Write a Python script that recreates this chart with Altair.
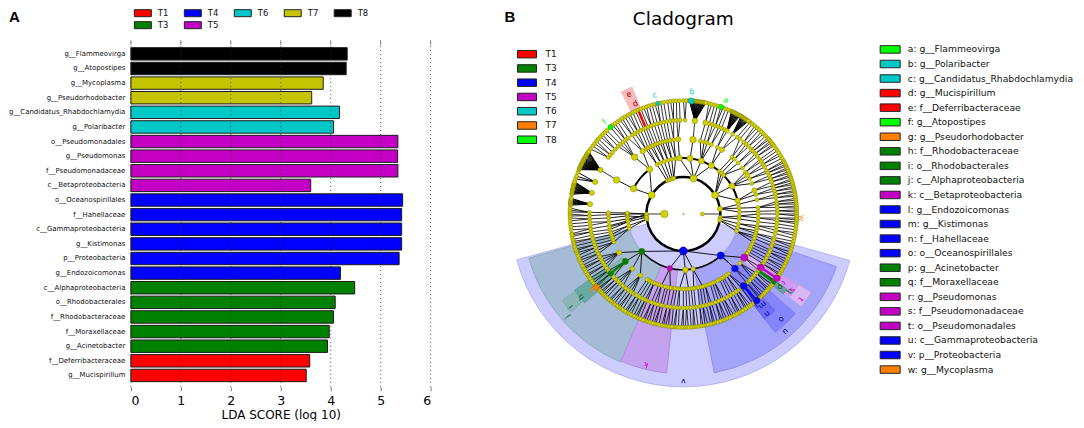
import numpy as np
import pandas as pd
import altair as alt

FONT = "DejaVu Sans"

# ---------- panel A values ----------
TAXA = ["g__Flammeovirga", "g__Atopostipes", "g__Mycoplasma", "g__Pseudorhodobacter",
        "g__Candidatus_Rhabdochlamydia", "g__Polaribacter", "o__Pseudomonadales", "g__Pseudomonas",
        "f__Pseudomonadaceae", "c__Betaproteobacteria", "o__Oceanospirillales", "f__Hahellaceae",
        "c__Gammaproteobacteria", "g__Kistimonas", "p__Proteobacteria", "g__Endozoicomonas",
        "c__Alphaproteobacteria", "o__Rhodobacterales", "f__Rhodobacteraceae", "f__Moraxellaceae",
        "g__Acinetobacter", "f__Deferribacteraceae", "g__Mucispirillum"]
LDA = [4.33, 4.31, 3.85, 3.62, 4.175, 4.055, 5.345, 5.34, 5.345, 3.60, 5.44, 5.42, 5.42, 5.42,
       5.37, 4.195, 4.48, 4.09, 4.055, 3.97, 3.935, 3.58, 3.51]
GROUP = ["T8", "T8", "T7", "T7", "T6", "T6", "T5", "T5", "T5", "T5", "T4", "T4", "T4", "T4", "T4",
         "T4", "T3", "T3", "T3", "T3", "T3", "T1", "T1"]
GROUPS_A = ["T1", "T3", "T4", "T5", "T6", "T7", "T8"]
COLORS_A = ["#ff0000", "#008000", "#0000ff", "#c400c4", "#00c8c8", "#c4c400", "#000000"]
LEG_A_COL = [1, 1, 2, 2, 3, 4, 5]
LEG_A_ROW = [1, 2, 1, 2, 1, 1, 1]
TICKS = [0, 1, 2, 3, 4, 5, 6]

# ---------- panel B legends ----------
GROUPS_B = ["T1", "T3", "T4", "T5", "T6", "T7", "T8"]
COLORS_B = ["#ff0000", "#008000", "#0000ff", "#c400c4", "#00c8c8", "#ff8000", "#00ff00"]
CLADE_NAMES = ["a: g__Flammeovirga", "b: g__Polaribacter", "c: g__Candidatus_Rhabdochlamydia",
               "d: g__Mucispirillum", "e: f__Deferribacteraceae", "f: g__Atopostipes",
               "g: g__Pseudorhodobacter", "h: f__Rhodobacteraceae", "i: o__Rhodobacterales",
               "j: c__Alphaproteobacteria", "k: c__Betaproteobacteria", "l: g__Endozoicomonas",
               "m: g__Kistimonas", "n: f__Hahellaceae", "o: o__Oceanospirillales",
               "p: g__Acinetobacter", "q: f__Moraxellaceae", "r: g__Pseudomonas",
               "s: f__Pseudomonadaceae", "t: o__Pseudomonadales", "u: c__Gammaproteobacteria",
               "v: p__Proteobacteria", "w: g__Mycoplasma"]
CLADE_GROUP = ["T8", "T6", "T6", "T1", "T1", "T8", "T7", "T3", "T3", "T3", "T5", "T4", "T4", "T4",
               "T4", "T3", "T3", "T5", "T5", "T5", "T4", "T4", "T7"]

# ---------- cladogram, read as angle (deg, clockwise from top) per ring ----------
R1, R2, R3, R4, R5, R6 = 19, 37, 56, 75, 94, 113.5

ANG_R3 = [-97, -95, -92, -90, -89, -63, -37, -28, -24, -20, -16, -12, -8, -4, 7, 18.6, 30, 40, 43, 46,
          60, 76, 80, 84, 88, 92, 95, 100, 104, 108, 138, 170, 178, 194, 228, 255, 258, 262]
EDGES_R2_R3 = [(-90, -97), (-92, -95), (-95, -92), (-90, -90), (-90, -89), (-59, -63), (-59, -37),
               (-26, -28), (-23, -24), (-20, -20), (-17, -16), (-15, -12), (-15, -8), (16, -4), (16, 7),
               (16, 18.6), (16, 30), (59, 40), (59, 43), (59, 46), (59, 60), (59, 76), (82, 80), (82, 84),
               (82, 88), (95, 92), (95, 95), (98, 100), (100, 104), (100, 108), (180, 138), (180, 170),
               (180, 178), (180, 194), (180, 228), (262, 255), (262, 258), (265, 262)]
ANG_R2 = [-98, -95, -92, -90, -59, -26, -23, -20, -17, -15, 16, 59, 82, 95, 98, 100, 180, 262, 265]

ANG_R4 = [-99, -96, -93, -90.5, -89, -63, -40.6, -33, -30, -28, -26, -24, -22, -20, -18, -16, -14, -12,
          -10, -7.4, -4, 7.4, 13, 16, 18.5, 22, 27, 31, 40.6, 43, 47, 52, 56, 58.8, 62, 66, 71.6, 75, 79,
          85, 88, 90, 93, 96, 99, 101, 103, 105, 107, 109, 112, 114, 116, 118, 120, 122, 125.6, 131,
          136.6, 143, 145, 147.5, 149, 151, 153, 155.5, 157, 159, 161.5, 163, 165, 167, 169, 171.5, 172,
          174, 176, 178, 180, 183, 185, 187, 189, 190, 192, 194, 197, 199, 201, 203, 205, 207, 209, 215,
          223, 230.7, 239, 248, 250, 252, 254, 256, 258, 260]
EDGES_R3_R4 = [(-97, -99), (-95, -96), (-92, -93), (-90, -90.5), (-89, -89), (-63, -63), (-37, -40.6),
               (-37, -33), (-28, -30), (-28, -28), (-24, -26), (-24, -24), (-20, -22), (-20, -20),
               (-16, -18), (-16, -16), (-12, -14), (-12, -12), (-8, -10), (-8, -7.4), (-4, -4), (7, 7.4),
               (18.6, 13), (18.6, 16), (18.6, 18.5), (18.6, 22), (30, 27), (30, 31), (40, 40.6), (43, 43),
               (46, 47), (46, 52), (60, 56), (60, 58.8), (60, 62), (60, 66), (76, 71.6), (76, 75),
               (80, 79), (84, 85), (88, 88), (92, 90), (92, 93), (95, 96), (100, 99), (100, 101),
               (104, 103), (104, 105), (108, 107), (108, 109), (108, 112), (138, 136.6), (138, 125.6),
               (170, 165), (170, 172), (178, 176), (178, 183), (194, 190), (194, 197), (228, 215),
               (228, 223), (228, 230.7), (228, 239), (255, 248), (255, 252), (258, 254), (258, 256),
               (262, 258), (262, 260)]

ANG_R5 = [-99, -97, -95, -93, -91, -89, -84, -77, -70, -62, -53, -51, -49, -46.5, -44, -42, -40, -38, -36,
          -33, -31, -29, -27, -25, -23.5, -22, -20, -18, -16, -14, -12, -10, -8, -6, -4, -2, 1, 7, 13.6, 16,
          18, 20, 22, 24, 26, 27.7, 31.7, 35, 37, 40, 42, 44, 46.5, 48, 50, 52, 54.5, 56, 58, 60, 62.5,
          64, 66, 68, 70, 72.5, 74, 76, 78, 80, 82.5, 84, 86, 88, 90, 92.5, 94, 96, 98, 100, 102, 104.5,
          106, 108, 110, 112.5, 114, 116, 118, 120, 122, 124.6, 127, 129, 131, 133, 135, 137.5, 140,
          142, 144.5, 146, 148, 150, 152, 154.5, 156, 158, 160, 162.5, 164, 166, 168, 170, 172.5, 174,
          176, 178, 180, 182.5, 184, 186, 188, 190, 192.5, 194, 196, 198, 200, 202.5, 204, 206, 208, 210,
          212.5, 214, 216, 218, 220, 222.5, 224, 226, 228, 230.8, 233, 235, 237, 239, 241, 243, 245, 247,
          249, 251, 253, 255, 257, 259]

ANG_R6 = [-100, -98, -96.5, -95, -93.5, -92, -91, -90, -89, -88, -87, -55, -53, -51.5, -50, -48.5, -47,
          -45.5, -44, -42.5, -40, -38.5, -37, -35.5, -34, -32.5, -31, -29.5, -28, -26.5, -25, -23.5, -22,
          -20.5, -19, -17.5, -16, -14.5, -13, -11.5, -10, -8, -6.5, -5, -3.5, -2, 0, 1.5, 13, 14.5, 16,
          17.5, 19.3, 20.5, 22, 23.5, 36, 37.5, 39, 40.5, 42, 43.5, 45, 46.5, 48, 49, 50, 51, 52, 53, 54.5,
          56, 57.5, 59, 60.5, 62, 63, 64, 65, 66, 67, 68, 69, 70, 71, 72, 73, 74, 75, 76, 77, 78, 79, 80,
          81, 82, 83, 84, 85, 86, 87, 88, 89, 90, 91, 92, 93, 94, 95, 96.5, 98, 99.5, 101, 102.5, 104,
          105.5, 107, 108, 109.5, 111, 112, 113.5, 115, 116, 117.5, 119, 120, 121.5, 122.5, 124.5, 126,
          127, 128.5, 130, 131, 132, 133, 134.5, 136, 137, 138, 139.7, 141, 142, 143.5, 145, 146, 147,
          148.5, 150, 151, 152, 153.5, 155, 156, 157.5, 159, 160, 161, 162.5, 164, 165, 166, 167.5, 169,
          170, 171, 172.5, 174, 175, 176, 177.5, 179, 180, 181, 182.5, 184, 185, 186, 187.5, 189, 190, 191,
          192.5, 194, 195, 196, 197.5, 199, 200, 201, 202.5, 204, 205, 206, 207.5, 209, 210, 211, 212.5,
          214, 215, 216, 217.5, 219, 220, 221, 222.5, 224, 225, 226, 227, 228, 229, 230, 231, 232.5, 234,
          235.5, 237, 238, 239.5, 241, 242, 243, 244.5, 246, 247, 248.5, 250, 251, 252, 253.5, 255, 256,
          257, 258.5, 259.5]
# dense fans: parent on ring 5 -> children on ring 6
FANS = [(-84, [-85.5, -85, -84.5, -84, -83.5, -83, -82.5, -82]),
        (-77, [-80, -79.5, -79, -78.5, -78, -77.5, -77, -76.5, -76, -75.5, -75, -74.5, -74, -73.5]),
        (-70, [-72, -70.5, -68.5]),
        (-62, [-67, -66.5, -66, -65.5, -65, -64.5, -64, -63.5, -63, -62.5, -62, -61.5, -61, -60.5, -60,
               -59.5, -59, -58.5, -58, -57.5, -57, -56.5]),
        (7, [3, 3.5, 4, 4.5, 5, 5.5, 6, 6.5, 7, 7.5, 8, 8.5, 9, 9.5, 10, 10.5, 11, 11.5]),
        (27.7, [25, 25.5, 26, 26.5, 27, 27.5, 28, 28.5, 29, 29.5, 30]),
        (31.7, [30.5, 31, 31.5, 32, 32.5, 33, 33.5, 34, 34.5, 35])]

# node diameters that stand out from the small ones
BIG = {(R1, -90): 8.5, (R2, -59): 8, (R2, 16): 8, (R2, 59): 8, (R2, 82): 6, (R3, -63): 7.5, (R3, -37): 7,
       (R3, -4): 6.5, (R3, 7): 7, (R3, 18.6): 7, (R3, 30): 7, (R3, 60): 7, (R3, 76): 6, (R3, 178): 6.5,
       (R3, 170): 5.5, (R4, -63): 7.5, (R4, -40.6): 7.5, (R4, -33): 6, (R4, -4): 6, (R4, 7.4): 7.5,
       (R4, 31): 6, (R4, 58.8): 6, (R4, 71.6): 6, (R4, 239): 6, (R4, 223): 5.5, (R4, 215): 5.5,
       (R5, -62): 6, (R5, -70): 6, (R5, -77): 6, (R5, -84): 6, (R5, 7): 6.5, (R5, 13.6): 6, (R5, 27.7): 5.5}

# highlighted clades: ring, angle, group colour, diameter
HILITE = [(R6, 19.3, "#00ff00", 6), (R6, 4, "#00c8c8", 7), (R6, -13, "#00c8c8", 5), (R6, -23.5, "#ff0000", 3.5),
          (R5, -23.5, "#ff0000", 3.5), (R6, -40, "#00ff00", 6), (R6, 230, "#ff8000", 6.5),
          (R5, 230.8, "#008000", 6.5), (R4, 230.7, "#008000", 7), (R3, 228, "#008000", 7),
          (R3, 194, "#c400c4", 6.5), (R6, 139.7, "#0000ff", 8), (R5, 140, "#0000ff", 8.5),
          (R4, 136.6, "#0000ff", 8), (R3, 138, "#0000ff", 8.5), (R2, 180, "#0000ff", 9.5),
          (R4, 125.6, "#c400c4", 8.5), (R5, 124.6, "#c400c4", 8), (R6, 124.5, "#c400c4", 8),
          (R6, 127, "#008000", 5), (R6, 92, "#ff8000", 3.5)]
# coloured branches: r0, a0, r1, a1, colour, width
HI_EDGES = [(R5, -23.5, R6, -23.5, "#ff0000", 2.5), (R4, 230.7, R5, 230.8, "#008000", 2.2),
            (R5, 127, R6, 127, "#008000", 2.5), (R5, 140, R6, 139.7, "#0000ff", 2.5),
            (R5, 124.6, R6, 124.5, "#c400c4", 2.5), (R3, 138, R4, 136.6, "#000000", 1),
            (R1, -90, R2, -90, "#000000", 0.8), (R1, 90, R2, 90, "#000000", 0.8)]

# shaded clade sectors: a0, a1, r0, r1, fill, stroke
SECTORS = [(105.6, 254.6, 37, 173, "#ccccff", "#b4b4f8"), (109, 169, 56, 162, "#a4a4f8", "#9292ee"),
           (203, 254, 56, 161, "#a5bbd6", "#8fb0b4"), (186, 203, 56, 160, "#c4a2ee", "#b08fe0"),
           (131.7, 142.2, 75, 150, "#8585fb", "#7c7cf2"), (136.5, 142.3, 94, 133, "#6e6ef4", "#6464ec"),
           (121.5, 128.2, 75, 150, "#d8b8f4", "#c8a0ec"), (121.8, 127.6, 94, 135, "#cf9ef0", "#c090e8"),
           (126, 128.6, 94, 128, "#6f9ea8", "#5f8f98"), (229, 234.5, 75, 149, "#8db5b6", "#7fabac"),
           (228, 235, 94, 133, "#6ca9a2", "#5f9f98"), (-27, -22, 114, 137, "#f8bcbc", "#f8bcbc")]
# thick arcs: a0, a1, radius, width
THICK = [(-98, 262, 37, 2.4), (-63, -37, 56, 2), (-8, 30, 56, 2), (30, 80, 56, 2), (138, 228, 56, 1.5)]

# letters: text, angle, radius, colour
LETTERS = [("a", 20.5, 121, "#00ff00"), ("b", 4, 122, "#00c8c8"), ("c", -13.5, 122, "#00c8c8"),
           ("d", -23.5, 120, "#a00000"), ("e", -24.5, 131, "#a00000"), ("f", -40.5, 121, "#00ff00"),
           ("g", 230.2, 118, "#ff8000"), ("h", 230.9, 131.5, "#005a30"), ("i", 230.5, 146, "#005a30"),
           ("j", 228.4, 155, "#005a30"), ("k", 194, 155, "#c400c4"), ("l", 141.5, 116, "#0000c0"),
           ("m", 139, 120, "#0000c0"), ("n", 140, 130, "#0000c0"), ("o", 137.1, 143.6, "#000080"),
           ("p", 127, 121, "#006000"), ("q", 126, 131.7, "#006000"), ("r", 124.5, 121, "#c400c4"),
           ("s", 124.8, 133, "#c400c4"), ("t", 126, 144.5, "#c400c4"), ("u", 139, 155.4, "#000080"),
           ("v", 180, 167, "#000080"), ("w", 92, 118, "#ff9030")]


# ---------- helpers ----------
def xy(r, a):
    t = np.radians(a)
    return float(r * np.sin(t)), float(-r * np.cos(t))


def edge(r0, a0, r1, a1, color="#000000", w=0.7):
    x, y = xy(r0, a0)
    x2, y2 = xy(r1, a1)
    return dict(x=x, y=y, x2=x2, y2=y2, c=color, w=w)


edges = []
for p, c in EDGES_R2_R3:
    edges.append(edge(R2, p, R3, c, w=0.9))
for p, c in EDGES_R3_R4:
    edges.append(edge(R3, p, R4, c, w=0.9))
for c in ANG_R5:
    p = min(ANG_R4, key=lambda a: abs(a - c))
    if abs(p - c) < 5:
        edges.append(edge(R4, p, R5, c, w=0.8))
for c in ANG_R6:
    p = min(ANG_R5, key=lambda a: abs(a - c))
    edges.append(edge(R5, p, R6, c, w=0.8))
fan_children = []
for p, kids in FANS:
    for c in kids:
        edges.append(edge(R5, p, R6, c, w=1.0))
        fan_children.append(c)
for e in HI_EDGES:
    edges.append(edge(*e))
edges_df = pd.DataFrame(edges)

nodes = []


def add_nodes(r, angs, dflt):
    for a in angs:
        x, y = xy(r, a)
        d = BIG.get((r, a), dflt)
        nodes.append(dict(x=x, y=y, s=np.pi / 4 * d * d, c="#d2d200", d=d))


add_nodes(R6, ANG_R6 + fan_children, 4.6)
add_nodes(R5, ANG_R5, 4.6)
add_nodes(R4, ANG_R4, 4.6)
add_nodes(R3, ANG_R3, 4.6)
add_nodes(R2, ANG_R2, 4.6)
add_nodes(R1, [-90, 90], 4.6)
add_nodes(0.01, [0], 1.5)
for r, a, col, d in HILITE:
    x, y = xy(r, a)
    nodes.append(dict(x=x, y=y, s=np.pi / 4 * d * d, c=col, d=d))
nodes_df = pd.DataFrame(nodes).sort_values("d", kind="stable")

sect_df = pd.DataFrame(
    [dict(t0=np.radians(a0), t1=np.radians(a1), r0=r0, r1=r1, f=f, st=st) for a0, a1, r0, r1, f, st in SECTORS])
thick_df = pd.DataFrame(
    [dict(t0=np.radians(a0), t1=np.radians(a1), r0=r - w / 2, r1=r + w / 2) for a0, a1, r, w in THICK])
let_df = pd.DataFrame([dict(t=t, x=xy(r, a)[0], y=xy(r, a)[1], c=c, rot=a % 360) for t, a, r, c in LETTERS])

# ---------- panel sizes ----------
ROW0, ROW1 = 33.5, 345
COL0, COL1, COL2 = 300, 430, 216
CX, CY = 253, 172

color_a = alt.Color("g:N", scale=alt.Scale(domain=GROUPS_A, range=COLORS_A), legend=None)
color_b = alt.Color("g:N", scale=alt.Scale(domain=GROUPS_B, range=COLORS_B), legend=None)

# ---------- top-left legend ----------
leg_a = pd.DataFrame(dict(g=GROUPS_A, col=LEG_A_COL, row=LEG_A_ROW))
lx = alt.X("col:O", scale=alt.Scale(type="point", domain=[1, 2, 3, 4, 5], range=[12, 212], padding=0), axis=None)
ly = alt.Y("row:O", scale=alt.Scale(type="point", domain=[1, 2], range=[5, 17], padding=0), axis=None)
top_a = alt.layer(
    alt.Chart(leg_a).mark_rect(width=17, height=7, stroke="#222222", strokeWidth=1).encode(x=lx, y=ly, color=color_a),
    alt.Chart(leg_a).mark_text(align="left", baseline="middle", dx=15, fontSize=8.5, font=FONT, color="#111111").encode(
        x=lx, y=ly, text="g:N"),
    alt.Chart(pd.DataFrame(dict(t=["A"]))).mark_text(align="left", baseline="middle", fontSize=15, fontWeight="bold",
                                                     font="Liberation Sans", color="#000000").encode(
        x=alt.value(-122), y=alt.value(9), text="t:N"),
).properties(width=COL0, height=ROW0)

# ---------- bars ----------
bars_df = pd.DataFrame(dict(n=TAXA, v=LDA, g=GROUP))
ticks_df = pd.DataFrame(dict(t=TICKS))
xs = alt.Scale(domain=[0, 6], nice=False)
bars = alt.Chart(bars_df).mark_bar(stroke="#1a1a1a", strokeWidth=1).encode(
    x=alt.X("v:Q", scale=xs, title="LDA SCORE (log 10)",
            axis=alt.Axis(values=TICKS, format="d", grid=False, domain=False, tickSize=4, tickColor="#777777",
                          labelFontSize=12.5, labelPadding=4, labelFont=FONT, titleFont=FONT, titleFontSize=12,
                          titleFontWeight="normal", titlePadding=2, labelColor="#000000", titleColor="#000000")),
    y=alt.Y("n:N", sort=TAXA, title=None,
            scale=alt.Scale(domain=TAXA, range=[4.4, 340.9], paddingInner=0.15, paddingOuter=0.075),
            axis=alt.Axis(domain=False, ticks=False, labelPadding=6, labelFontSize=6.95, labelFont=FONT, labelLimit=300,
                          labelColor="#111111")),
    color=color_a)
grid = alt.Chart(ticks_df).mark_rule(strokeDash=[1, 3], color="#333333", strokeWidth=0.8).encode(x=alt.X("t:Q", scale=xs))
topt = alt.Chart(ticks_df).mark_rule(color="#777777", strokeWidth=0.8).encode(
    x=alt.X("t:Q", scale=xs), y=alt.value(-2), y2=alt.value(3))
panel_a = alt.layer(bars, grid, topt).properties(width=COL0, height=ROW1)

# ---------- title row of panel B ----------
head = pd.DataFrame(dict(t=["B"]))
top_b = alt.layer(
    alt.Chart(head).mark_text(align="left", baseline="middle", fontSize=15, fontWeight="bold",
                              font="Liberation Sans", color="#000000").encode(
        x=alt.value(74), y=alt.value(9), text="t:N"),
    alt.Chart(pd.DataFrame(dict(t=["Cladogram"]))).mark_text(align="center", baseline="middle", fontSize=18.5, font=FONT,
                                                             color="#000000").encode(
        x=alt.value(CX), y=alt.value(11), text="t:N"),
).properties(width=COL1, height=ROW0)

# ---------- cladogram ----------
sx = alt.Scale(domain=[-CX, COL1 - CX], nice=False, zero=False)
sy = alt.Scale(domain=[ROW1 - CY, -CY], nice=False, zero=False)
X = alt.X("x:Q", scale=sx, axis=None)
Y = alt.Y("y:Q", scale=sy, axis=None)


def arcs(df, **enc):
    return alt.Chart(df).mark_arc(**enc.pop("mark", {})).encode(
        x=alt.value(CX), y=alt.value(CY),
        theta=alt.Theta("t0:Q", scale=None, stack=None), theta2=alt.Theta2("t1:Q"),
        radius=alt.Radius("r1:Q", scale=None), radius2=alt.Radius2("r0:Q"), **enc)


tree = alt.layer(
    arcs(sect_df, mark=dict(strokeWidth=1), fill=alt.Fill("f:N", scale=None), stroke=alt.Stroke("st:N", scale=None)),
    arcs(thick_df, mark=dict(fill="#000000")),
    alt.Chart(edges_df).mark_rule().encode(
        x=X, y=Y, x2="x2:Q", y2="y2:Q",
        color=alt.Color("c:N", scale=None), strokeWidth=alt.StrokeWidth("w:Q", scale=None)),
    alt.Chart(nodes_df).mark_point(filled=False, stroke="#5e5e00", strokeWidth=0.35, opacity=1, shape="circle").encode(
        x=X, y=Y, size=alt.Size("s:Q", scale=None), fill=alt.Fill("c:N", scale=None)),
    alt.Chart(let_df).mark_text(fontSize=8, font=FONT, baseline="middle", align="center").encode(
        x=X, y=Y, text="t:N", color=alt.Color("c:N", scale=None), angle=alt.Angle("rot:Q", scale=None)),
)
leg_b = pd.DataFrame(dict(g=GROUPS_B))
ly_b = alt.Y("g:N", sort=GROUPS_B, axis=None, scale=alt.Scale(domain=GROUPS_B, range=[4.9, 104.8]))
legend_b = alt.layer(
    alt.Chart(leg_b).mark_rect(height=7.5, stroke="#222222", strokeWidth=1).encode(
        x=alt.value(87), x2=alt.value(106), y=ly_b, color=color_b),
    alt.Chart(leg_b).mark_text(align="left", baseline="middle", fontSize=9, font=FONT, color="#111111").encode(
        x=alt.value(115), y=ly_b, text="g:N"),
)
panel_b = alt.layer(tree, legend_b).resolve_scale(y="independent", x="independent", color="independent").properties(
    width=COL1, height=ROW1)

# ---------- right legend ----------
leg_c = pd.DataFrame(dict(n=CLADE_NAMES, g=CLADE_GROUP))
ly_c = alt.Y("n:N", sort=CLADE_NAMES, axis=None, scale=alt.Scale(domain=CLADE_NAMES, range=[0, 335]))
panel_c = alt.layer(
    alt.Chart(leg_c).mark_rect(height=7.5, stroke="#222222", strokeWidth=1).encode(
        x=alt.value(20), x2=alt.value(40), y=ly_c, color=color_b),
    alt.Chart(leg_c).mark_text(align="left", baseline="middle", fontSize=9.2, font=FONT, color="#111111").encode(
        x=alt.value(47.7), y=ly_c, text="n:N"),
).properties(width=COL2, height=ROW1)

spacer = alt.Chart(pd.DataFrame(dict(t=[""]))).mark_text().encode(x=alt.value(20), y=alt.value(20), text="t:N").properties(
    width=COL2, height=ROW0)

chart = alt.concat(top_a, top_b, spacer, panel_a, panel_b, panel_c, columns=3, spacing=0, bounds="flush", align="each").resolve_scale(
    color="independent").properties(padding=0).configure_view(stroke=None)

chart.save("out.html", embed_options={"renderer": "svg", "actions": False})
